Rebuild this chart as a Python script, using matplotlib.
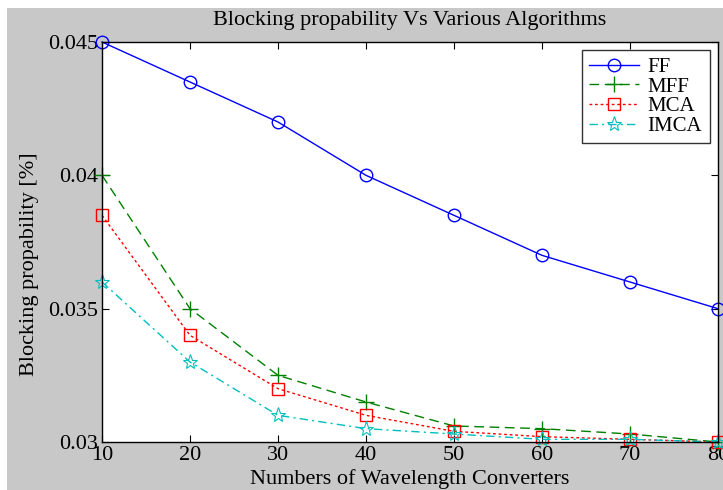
import matplotlib
matplotlib.use("Agg")
import matplotlib.pyplot as plt
from matplotlib.patches import Rectangle

# converters on the x axis
CONVERTERS = [10, 20, 30, 40, 50, 60, 70, 80]
FF   = [0.0450, 0.0435, 0.0420, 0.0400, 0.0385, 0.0370, 0.0360, 0.0350]
MFF  = [0.0400, 0.0350, 0.0325, 0.0315, 0.0306, 0.0305, 0.0303, 0.0300]
MCA  = [0.0385, 0.0340, 0.0320, 0.0310, 0.0304, 0.0302, 0.0301, 0.0300]
IMCA = [0.0360, 0.0330, 0.0310, 0.0305, 0.0303, 0.0301, 0.0301, 0.0300]
YTICKS = [0.03, 0.035, 0.04, 0.045]
YLABELS = ["0.03", "0.035", "0.04", "0.045"]

plt.rcParams["font.family"] = ["Liberation Serif", "DejaVu Serif"]
GRAY = "#c8c8c8"

fig = plt.figure(figsize=(7.23, 4.90), dpi=100)
fig.patch.set_facecolor("white")
fig.patches.append(Rectangle((7 / 723, 0), 1, 1 - 8 / 490, transform=fig.transFigure,
                             facecolor=GRAY, edgecolor="none", zorder=-10))

# axes box in pixels: left 102, right 718, top 42, bottom 442
ax = fig.add_axes([102 / 723, 48 / 490, (718 - 102) / 723, (442 - 42) / 490])
ax.set_facecolor("white")

ax.plot(CONVERTERS, FF, color="#0000ff", lw=1, ls="-", marker="o", ms=9,
        mfc="none", mew=1, label="FF", clip_on=False)
ax.plot(CONVERTERS, MFF, color="#008000", lw=1, ls=(0, (7, 4)), marker="+", ms=11,
        mew=1, label="MFF", clip_on=False)
ax.plot(CONVERTERS, MCA, color="#ff0000", lw=1, ls=(0, (2, 2)), marker="s", ms=9,
        mfc="none", mew=1, label="MCA", clip_on=False)
ax.plot(CONVERTERS, IMCA, color="#00bfbf", lw=1, ls=(0, (6, 3, 1.5, 3)), marker="*", ms=11,
        mfc="none", mew=0.8, label="IMCA", clip_on=False)

ax.set_xlim(10, 80)
ax.set_ylim(0.03, 0.045)
ax.set_xticks(CONVERTERS)
ax.set_yticks(YTICKS)
ax.set_yticklabels(YLABELS)
ax.tick_params(direction="in", top=True, right=True, labelsize=16, length=5, width=0.8, pad=3)
for s in ax.spines.values():
    s.set_linewidth(1)

ax.set_title("Blocking propability Vs Various Algorithms", fontsize=16, pad=12)
ax.set_xlabel("Numbers of Wavelength Converters", fontsize=16, labelpad=3)
ax.set_ylabel("Blocking propability [%]", fontsize=16)
ax.yaxis.set_label_coords(-0.103, 0.445)

leg = ax.legend(loc="upper right", fontsize=15, frameon=True, fancybox=False,
                edgecolor="black", borderpad=0.35, labelspacing=0.0,
                handlelength=2.4, handletextpad=0.4, borderaxespad=0.4)
leg.get_frame().set_linewidth(1)

fig.savefig("out.png", facecolor=fig.get_facecolor())
